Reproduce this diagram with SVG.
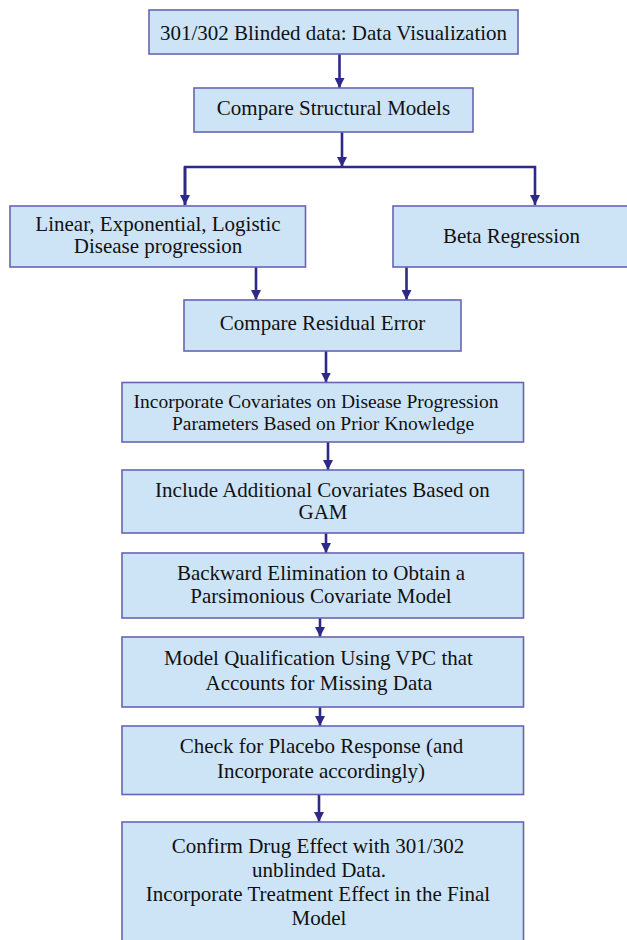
<svg xmlns="http://www.w3.org/2000/svg" width="627" height="940" viewBox="0 0 627 940" font-family="'Liberation Serif', 'Times New Roman', Times, 'DejaVu Serif', serif">
<style>
.box{fill:#cde4f7;stroke:#6a63b3;stroke-width:1.6}
.t{font-size:21px;fill:#111;text-anchor:middle}
.c{fill:none;stroke:#2d2a87;stroke-width:2.6}
</style>
<defs>
<marker id="ah" markerWidth="10" markerHeight="10" refX="10" refY="5" orient="auto" markerUnits="userSpaceOnUse" viewBox="0 0 10 10">
<path d="M0,0 L10,5 L0,10 Z" fill="#2d2a87"/>
</marker>
</defs>
<rect width="627" height="940" fill="#ffffff"/>
<g id="connectors">
<line class="c" x1="339.5" y1="54" x2="339.5" y2="88" marker-end="url(#ah)"/>
<line class="c" x1="342" y1="132" x2="342" y2="167" marker-end="url(#ah)"/>
<polyline class="c" points="185,205 185,167 535,167 535,205" marker-end="url(#ah)"/>
<line class="c" x1="185" y1="167" x2="185" y2="205" marker-end="url(#ah)"/>
<line class="c" x1="256" y1="267" x2="256" y2="300" marker-end="url(#ah)"/>
<line class="c" x1="406.5" y1="267" x2="406.5" y2="300" marker-end="url(#ah)"/>
<line class="c" x1="326" y1="351" x2="326" y2="382.5" marker-end="url(#ah)"/>
<line class="c" x1="328" y1="442" x2="328" y2="470" marker-end="url(#ah)"/>
<line class="c" x1="326" y1="533" x2="326" y2="553" marker-end="url(#ah)"/>
<line class="c" x1="320" y1="618" x2="320" y2="637" marker-end="url(#ah)"/>
<line class="c" x1="320" y1="707" x2="320" y2="726" marker-end="url(#ah)"/>
<line class="c" x1="319" y1="795" x2="319" y2="822" marker-end="url(#ah)"/>
</g>
<g id="n1"><rect class="box" x="149" y="10" width="369" height="44"/><text class="t" x="333.5" y="40">301/302 Blinded data: Data Visualization</text></g>
<g id="n2"><rect class="box" x="194" y="88" width="279" height="44"/><text class="t" x="333.5" y="115">Compare Structural Models</text></g>
<g id="n3"><rect class="box" x="10" y="206" width="295.5" height="61"/><text class="t" x="158" y="231">Linear, Exponential, Logistic</text><text class="t" x="158" y="253">Disease progression</text></g>
<g id="n4"><rect class="box" x="393" y="206" width="240" height="61"/><text class="t" x="511.5" y="243">Beta Regression</text></g>
<g id="n5"><rect class="box" x="184" y="300" width="277" height="51"/><text class="t" x="322.5" y="330">Compare Residual Error</text></g>
<g id="n6"><rect class="box" x="122" y="382.5" width="401.5" height="59.5"/><text class="t" x="316" y="407.5" style="font-size:19.5px">Incorporate Covariates on Disease Progression</text><text class="t" x="323" y="430" style="font-size:19.5px">Parameters Based on Prior Knowledge</text></g>
<g id="n7"><rect class="box" x="122" y="470" width="401.5" height="63"/><text class="t" x="322.5" y="497">Include Additional Covariates Based on</text><text class="t" x="323" y="519">GAM</text></g>
<g id="n8"><rect class="box" x="122" y="553" width="401.5" height="65"/><text class="t" x="321" y="580">Backward Elimination to Obtain a</text><text class="t" x="321" y="603">Parsimonious Covariate Model</text></g>
<g id="n9"><rect class="box" x="122" y="637" width="401.5" height="70"/><text class="t" x="318.5" y="665">Model Qualification Using VPC that</text><text class="t" x="319" y="690">Accounts for Missing Data</text></g>
<g id="n10"><rect class="box" x="122" y="726" width="401.5" height="68.5"/><text class="t" x="321.5" y="753">Check for Placebo Response (and</text><text class="t" x="321" y="778">Incorporate accordingly)</text></g>
<g id="n11"><rect class="box" x="122" y="822" width="401.5" height="130"/><text class="t" x="318" y="853">Confirm Drug Effect with 301/302</text><text class="t" x="319" y="877">unblinded Data.</text><text class="t" x="318" y="901">Incorporate Treatment Effect in the Final</text><text class="t" x="319" y="925">Model</text></g>
</svg>
